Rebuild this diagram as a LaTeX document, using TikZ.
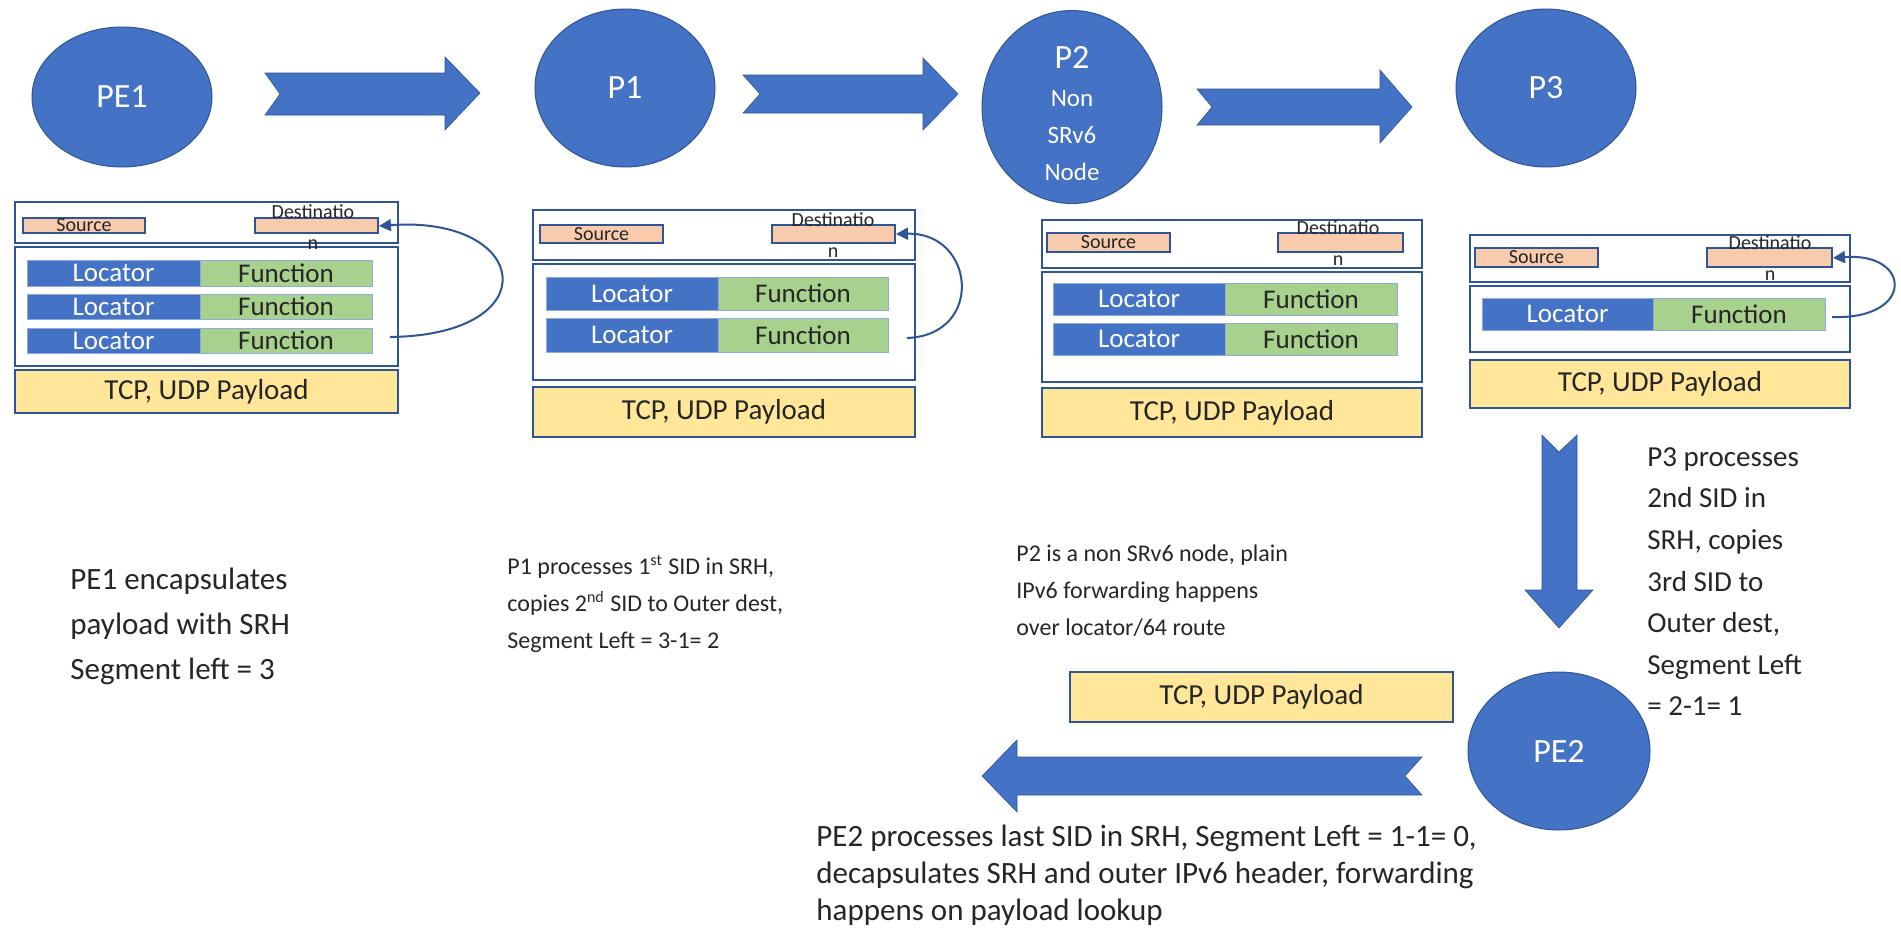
\documentclass[tikz,border=0pt]{standalone}
\usepackage{fontspec}
\setmainfont{Carlito}
\usetikzlibrary{shapes.geometric,arrows.meta}
\definecolor{nodeblue}{HTML}{4472C4}
\definecolor{edgeblue}{HTML}{2F5597}
\definecolor{fgreen}{HTML}{A9D18E}
\definecolor{peach}{HTML}{F8CBAD}
\definecolor{payl}{HTML}{FFE699}
\definecolor{txt}{HTML}{262626}
\definecolor{rowline}{HTML}{8FAADC}
\tikzset{
 router/.style={ellipse, fill=nodeblue, draw=edgeblue, line width=0.5pt, inner sep=0pt, text=white, font=\fontsize{17}{20}\selectfont},
 flow/.style={fill=nodeblue, draw=edgeblue, line width=0.3pt},
 frame/.style={draw=edgeblue, line width=1.4pt, fill=white},
 pay/.style={draw=edgeblue, line width=1.4pt, fill=payl},
 bar/.style={draw=edgeblue, line width=1pt, fill=peach, inner sep=0pt},
 loccell/.style={draw=rowline, line width=0.5pt, fill=nodeblue},
 funcell/.style={draw=rowline, line width=0.5pt, fill=fgreen},
 loctext/.style={text=white, font=\fontsize{13.5}{15}\selectfont, inner sep=0pt},
 funtext/.style={text=txt, font=\fontsize{13.5}{15}\selectfont, inner sep=0pt},
 paytext/.style={text=txt, font=\fontsize{14.5}{17}\selectfont, inner sep=0pt},
 smalltext/.style={text=txt, font=\fontsize{10}{11}\selectfont, inner sep=0pt},
 note/.style={text=txt, align=left, anchor=north west, inner sep=0pt},
 loop/.style={draw=edgeblue, line width=1pt, -{Triangle[length=6pt,width=6pt]}},
}
\begin{document}
\begin{tikzpicture}[x=0.5pt,y=-0.5pt]
\fill[white] (0,0) rectangle (1901,937);
\useasboundingbox (0,0) rectangle (1901,937);

% routers
\node[router, minimum width=90pt, minimum height=70pt] (pe1) at (122,97) {PE1};
\node[router, minimum width=90pt, minimum height=79pt] (p1) at (625,88) {P1};
\node[router, minimum width=90pt, minimum height=96.5pt] (p2) at (1072,107) {};
\node[text=white, font=\fontsize{17}{20}\selectfont, inner sep=0pt] (p2a) at (1072,57) {P2};
\node[text=white, font=\fontsize{12.5}{18.5}\selectfont, align=center, inner sep=0pt] (p2b) at (1072,136) {Non\\SRv6\\Node};
\node[router, minimum width=90pt, minimum height=79pt] (p3) at (1546,88) {P3};
\node[router, minimum width=91pt, minimum height=79pt] (pe2) at (1559,751) {PE2};

% block arrows
\path[flow] (265,73) -- (445,73) -- (445,57) -- (480,93) -- (445,130) -- (445,115) -- (265,115) -- (280,94) -- cycle;
\path[flow] (743,75) -- (923,75) -- (923,58) -- (958,94) -- (923,130) -- (923,113) -- (743,113) -- (760,94) -- cycle;
\path[flow] (1197,89) -- (1380,89) -- (1380,70) -- (1412,107) -- (1380,143) -- (1380,125) -- (1197,125) -- (1212,107) -- cycle;
\path[flow] (1542,435) -- (1559,452) -- (1577,435) -- (1577,590) -- (1593,590) -- (1559,628) -- (1525,590) -- (1542,590) -- cycle;
\path[flow] (982,776) -- (1017,740) -- (1017,757) -- (1422,757) -- (1405,776) -- (1422,795) -- (1017,795) -- (1017,812) -- cycle;

% ---------- packet 1 (PE1)
\path[frame] (15,202) rectangle (398,243);
\path[frame] (15,247) rectangle (398,366);
\path[pay] (15,370) rectangle node[paytext] (pl1) {TCP, UDP Payload} (398,413);
\path[bar] (23,218) rectangle node[smalltext] (s1) {Source} (145,233);
\path[bar] (255,218) rectangle (378,233);
\coordinate (d1) at (379,226);
\node[smalltext] (dt1) at (313,212) {Destinatio};
\node[smalltext] (dn1) at (313,245) {n};
\path[loccell] (27,260) rectangle node[loctext] (l1a) {Locator} (200,286);
\path[funcell] (200,260) rectangle node[funtext] (f1a) {Function} (372,286);
\path[loccell] (27,294) rectangle node[loctext] (l1b) {Locator} (200,319);
\path[funcell] (200,294) rectangle node[funtext] (f1b) {Function} (372,319);
\path[loccell] (27,328) rectangle node[loctext] (l1c) {Locator} (200,353);
\path[funcell] (200,328) rectangle node[funtext] (f1c) {Function} (372,353);
\coordinate (r1) at (390,337);
\draw[loop] (r1) .. controls (550,335) and (530,215) .. (d1);

% ---------- packet 2 (P1)
\path[frame] (533,210) rectangle (915,260);
\path[frame] (533,264) rectangle (915,380);
\path[pay] (533,387) rectangle node[paytext] (pl2) {TCP, UDP Payload} (915,437);
\path[bar] (540,225) rectangle node[smalltext] (s2) {Source} (663,243);
\path[bar] (772,225) rectangle (895,243);
\coordinate (d2) at (896,234);
\node[smalltext] (dt2) at (833,220) {Destinatio};
\node[smalltext] (dn2) at (833,253) {n};
\path[loccell] (546,277) rectangle node[loctext] (l2a) {Locator} (718,310);
\path[funcell] (718,277) rectangle node[funtext] (f2a) {Function} (888,310);
\path[loccell] (546,318) rectangle node[loctext] (l2b) {Locator} (718,352);
\path[funcell] (718,318) rectangle node[funtext] (f2b) {Function} (888,352);
\coordinate (r2) at (907,338);
\draw[loop] (r2) .. controls (985,335) and (975,232) .. (d2);

% ---------- packet 3 (P2)
\path[frame] (1042,220) rectangle (1422,268);
\path[frame] (1042,272) rectangle (1422,382);
\path[pay] (1042,388) rectangle node[paytext] (pl3) {TCP, UDP Payload} (1422,437);
\path[bar] (1047,233) rectangle node[smalltext] (s3) {Source} (1170,252);
\path[bar] (1278,233) rectangle (1403,252);
\node[smalltext] (dt3) at (1338,228) {Destinatio};
\node[smalltext] (dn3) at (1338,261) {n};
\path[loccell] (1053,283) rectangle node[loctext] (l3a) {Locator} (1225,315);
\path[funcell] (1225,283) rectangle node[funtext] (f3a) {Function} (1397,315);
\path[loccell] (1053,323) rectangle node[loctext] (l3b) {Locator} (1225,355);
\path[funcell] (1225,323) rectangle node[funtext] (f3b) {Function} (1397,355);

% ---------- packet 4 (P3)
\path[frame] (1470,235) rectangle (1850,282);
\path[frame] (1470,286) rectangle (1850,352);
\path[pay] (1470,360) rectangle node[paytext] (pl4) {TCP, UDP Payload} (1850,408);
\path[bar] (1475,248) rectangle node[smalltext] (s4) {Source} (1598,267);
\path[bar] (1707,248) rectangle (1832,267);
\coordinate (d4) at (1833,258);
\node[smalltext] (dt4) at (1770,243) {Destinatio};
\node[smalltext] (dn4) at (1770,276) {n};
\path[loccell] (1482,298) rectangle node[loctext] (l4a) {Locator} (1653,330);
\path[funcell] (1653,298) rectangle node[funtext] (f4a) {Function} (1825,330);
\coordinate (r4) at (1832,317);
\draw[loop] (r4) .. controls (1915,320) and (1912,252) .. (d4);

% ---------- payload after PE2
\path[pay] (1070,672) rectangle node[paytext] (pl5) {TCP, UDP Payload} (1453,722);

% ---------- notes
\node[note, font=\fontsize{15.5}{22.5}\selectfont] (t1) at (70,568) {PE1 encapsulates\\payload with SRH\\Segment left = 3};
\node[note, font=\fontsize{12}{18.5}\selectfont] (t2) at (507,555) {P1 processes 1\textsuperscript{st} SID in SRH,\\copies 2\textsuperscript{nd} SID to Outer dest,\\Segment Left = 3-1= 2};
\node[note, font=\fontsize{12}{18.5}\selectfont] (t3) at (1016,544) {P2 is a non SRv6 node, plain\\IPv6 forwarding happens\\over locator/64 route};
\node[note, font=\fontsize{14.5}{20.8}\selectfont] (t4) at (1647,447) {P3 processes\\2nd SID in\\SRH, copies\\3rd SID to\\Outer dest,\\Segment Left\\= 2-1= 1};
\node[note, font=\fontsize{15.5}{18.4}\selectfont] (t5) at (816,825) {PE2 processes last SID in SRH, Segment Left = 1-1= 0,\\decapsulates SRH and outer IPv6 header, forwarding\\happens on payload lookup};
\end{tikzpicture}
\end{document}
